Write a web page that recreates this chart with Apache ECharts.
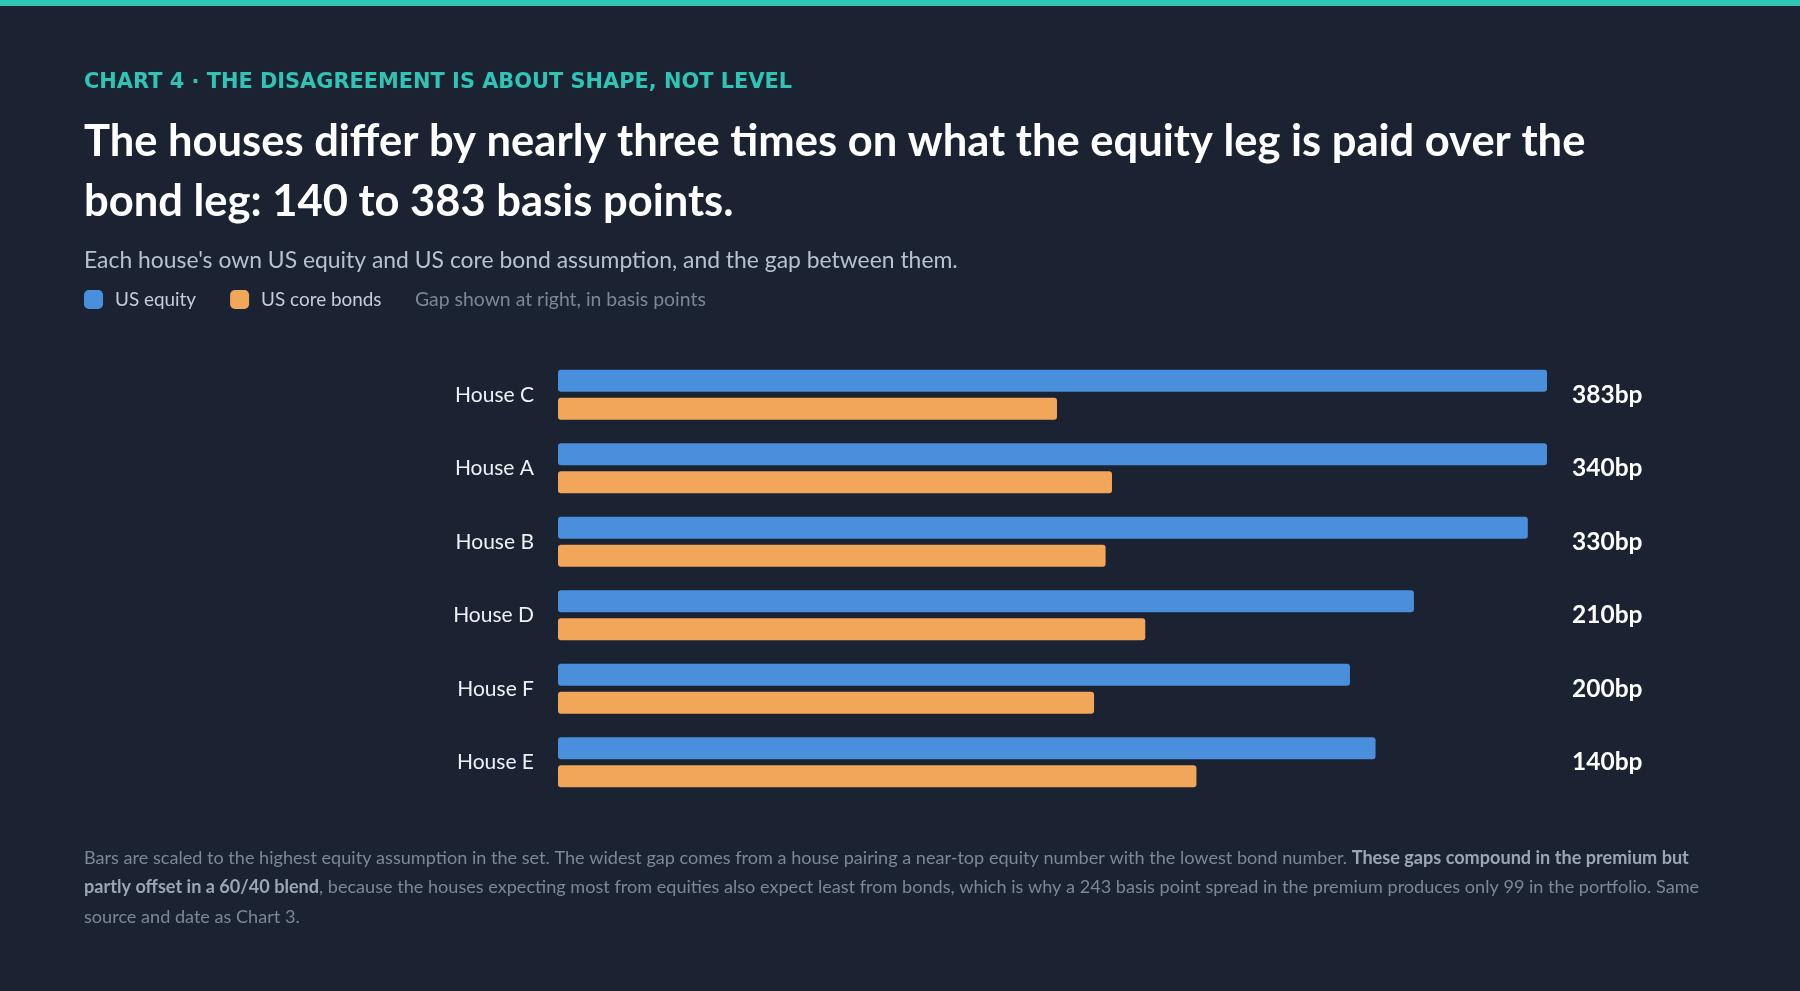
<!DOCTYPE html>
<html><head><meta charset="utf-8">
<script src="https://cdn.jsdelivr.net/npm/echarts@6/dist/echarts.min.js"></script>
<style>html,body{margin:0;padding:0;background:#1b2333;}#c{width:1800px;height:991px;}</style>
</head><body><div id="c"></div>
<script>
const houses = ['House C', 'House A', 'House B', 'House D', 'House F', 'House E'];
const usEquity = [7.73, 7.73, 7.58, 6.69, 6.19, 6.39];
const usCoreBonds = [3.90, 4.33, 4.28, 4.59, 4.19, 4.99];
const gapLabels = usEquity.map((v, i) => Math.round((v - usCoreBonds[i]) * 100) + 'bp');

const footnote = '{n|Bars are scaled to the highest equity assumption in the set. The widest gap comes from a house pairing a near-top equity number with the lowest bond number. }{b|These gaps compound in the premium but}\n{b|partly offset in a 60/40 blend}{n|, because the houses expecting most from equities also expect least from bonds, which is why a 243 basis point spread in the premium produces only 99 in the portfolio. Same}\n{n|source and date as Chart 3.}';

const chart = echarts.init(document.getElementById('c'));
chart.setOption({
  animation: false,
  backgroundColor: '#1b2333',
  textStyle: { fontFamily: 'Lato' },
  title: [
    { text: 'CHART 4 · THE DISAGREEMENT IS ABOUT SHAPE, NOT LEVEL', left: 84, top: 71, padding: 0,
      textStyle: { color: '#2ec4b6', fontFamily: 'DejaVu Sans', fontWeight: 'bold', fontSize: 20.9, lineHeight: 24 } },
    { text: 'The houses differ by nearly three times on what the equity leg is paid over the\nbond leg: 140 to 383 basis points.', left: 84, top: 112, padding: 0,
      textStyle: { color: '#ffffff', fontFamily: 'Lato', fontSize: 43.5, fontWeight: 'bold', lineHeight: 60 } },
    { text: "Each house's own US equity and US core bond assumption, and the gap between them.", left: 84, top: 246, padding: 0,
      textStyle: { color: '#b8c2cf', fontFamily: 'Lato', fontSize: 22.9, fontWeight: 'normal', lineHeight: 30 } }
  ],
  legend: {
    left: 84, top: 290, padding: 0, itemWidth: 19, itemHeight: 19, itemGap: 34, icon: 'roundRect',
    selectedMode: false, data: ['US equity', 'US core bonds'],
    textStyle: { color: '#c5cdd8', fontSize: 18.9, fontFamily: 'Lato', padding: [0, 0, 0, 7] }
  },
  graphic: [
    { type: 'rect', x: 0, y: 0, shape: { width: 1800, height: 6 }, style: { fill: '#2ec4b6' }, silent: true },
    { type: 'text', x: 415, y: 300, silent: true,
      style: { text: 'Gap shown at right, in basis points', fill: '#7b8798', fontSize: 19.4, fontFamily: 'Lato',
        textVerticalAlign: 'middle', verticalAlign: 'middle' } },
    { type: 'text', x: 84, y: 843, silent: true,
      style: { text: footnote, fontFamily: 'Lato', fontSize: 18.1, lineHeight: 29.5, fill: '#7c8797',
        rich: {
          n: { fontFamily: 'Lato', fontSize: 18.1, lineHeight: 29.5, fill: '#7c8797', color: '#7c8797' },
          b: { fontFamily: 'Lato', fontSize: 18.1, lineHeight: 29.5, fontWeight: 'bold', fill: '#9ba5b3', color: '#9ba5b3' }
        } } }
  ],
  grid: { left: 558, right: 253, top: 358, bottom: 192 },
  xAxis: { type: 'value', min: 0, max: Math.max(...usEquity), show: false },
  yAxis: [
    { type: 'category', data: houses, inverse: true, axisLine: { show: false }, axisTick: { show: false }, splitLine: { show: false },
      axisLabel: { color: '#eef1f5', fontSize: 21, fontFamily: 'Lato', margin: 24 } },
    { type: 'category', data: gapLabels, inverse: true, position: 'right', axisLine: { show: false }, axisTick: { show: false }, splitLine: { show: false },
      axisLabel: { color: '#ffffff', fontSize: 24.5, fontWeight: 'bold', fontFamily: 'Lato', margin: 25 } }
  ],
  series: [
    { name: 'US equity', type: 'bar', data: usEquity, barWidth: 22, barGap: '27%', itemStyle: { color: '#4a8fdb', borderRadius: 3 } },
    { name: 'US core bonds', type: 'bar', data: usCoreBonds, barWidth: 22, barGap: '27%', itemStyle: { color: '#f2a65a', borderRadius: 3 } }
  ]
});
</script></body></html>
